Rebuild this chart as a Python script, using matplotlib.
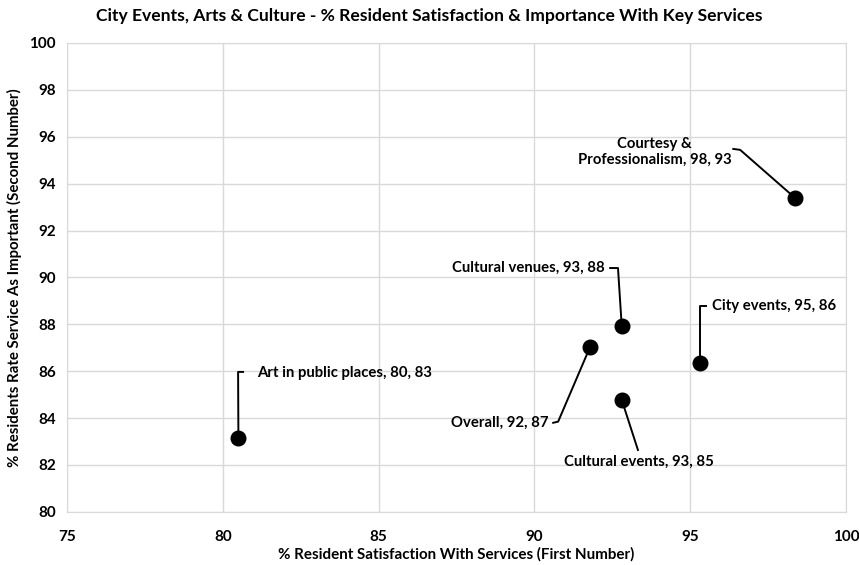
import matplotlib
matplotlib.use("Agg")
import matplotlib.pyplot as plt

plt.rcParams['font.family'] = ['Lato', 'DejaVu Sans']

# data
services = ["Courtesy &\nProfessionalism", "Cultural venues", "Overall",
            "Cultural events", "City events", "Art in public places"]
satisfaction = [98.37, 92.80, 91.78, 92.80, 95.31, 80.50]
importance = [93.38, 87.93, 87.02, 84.78, 86.34, 83.17]
label_text = ["98, 93", "93, 88", "92, 87", "93, 85", "95, 86", "80, 83"]

# label layout: text position, alignment, leader path (text end -> elbow)
label_pos = [(93.85, 95.35, "center"), (92.27, 90.40, "right"), (90.44, 83.80, "right"),
             (93.36, 82.13, "center"), (95.70, 88.78, "left"), (81.10, 85.93, "left")]
leaders = [[(96.38, 95.48), (96.60, 95.44)],
           [(92.43, 90.40), (92.68, 90.40)],
           [(90.60, 83.80), (90.76, 83.85)],
           [(93.32, 82.64)],
           [(95.51, 88.78), (95.31, 88.78)],
           [(80.65, 85.97), (80.49, 85.97)]]

fig = plt.figure(figsize=(8.59, 5.65), dpi=100)
ax = fig.add_axes([0.078, 0.094, 0.907, 0.830])

ax.set_xlim(75, 100)
ax.set_ylim(80, 100)
ax.set_xticks(range(75, 101, 5))
ax.set_yticks(range(80, 101, 2))
ax.grid(True, color="#d9d9d9", linewidth=1)
ax.set_axisbelow(True)
for s in ax.spines.values():
    s.set_color("#d9d9d9")
ax.tick_params(length=0, labelsize=11, pad=8)
ax.tick_params(axis="x", pad=13)
for lbl in ax.get_xticklabels() + ax.get_yticklabels():
    lbl.set_fontweight("bold")

for i in range(len(services)):
    path = leaders[i] + [(satisfaction[i], importance[i])]
    ax.plot([p[0] for p in path], [p[1] for p in path], color="black", linewidth=1.4, zorder=2)
    tx, ty, ha = label_pos[i]
    ax.text(tx, ty, f"{services[i]}, {label_text[i]}", ha=ha, va="center",
            multialignment="center", fontsize=10.7, fontweight="bold", zorder=4)

ax.plot(satisfaction, importance, "o", color="black", markersize=10.5, linestyle="none", zorder=3)

ax.set_xlabel("% Resident Satisfaction With Services (First Number)", fontsize=10.9, fontweight="bold", labelpad=2)
ax.set_ylabel("% Residents Rate Service As Important (Second Number)", fontsize=10.8, fontweight="bold", labelpad=5)
fig.suptitle("City Events, Arts & Culture - % Resident Satisfaction & Importance With Key Services",
             x=0.50, y=0.985, fontsize=12.6, fontweight="bold")

fig.savefig("out.png", dpi=100)
